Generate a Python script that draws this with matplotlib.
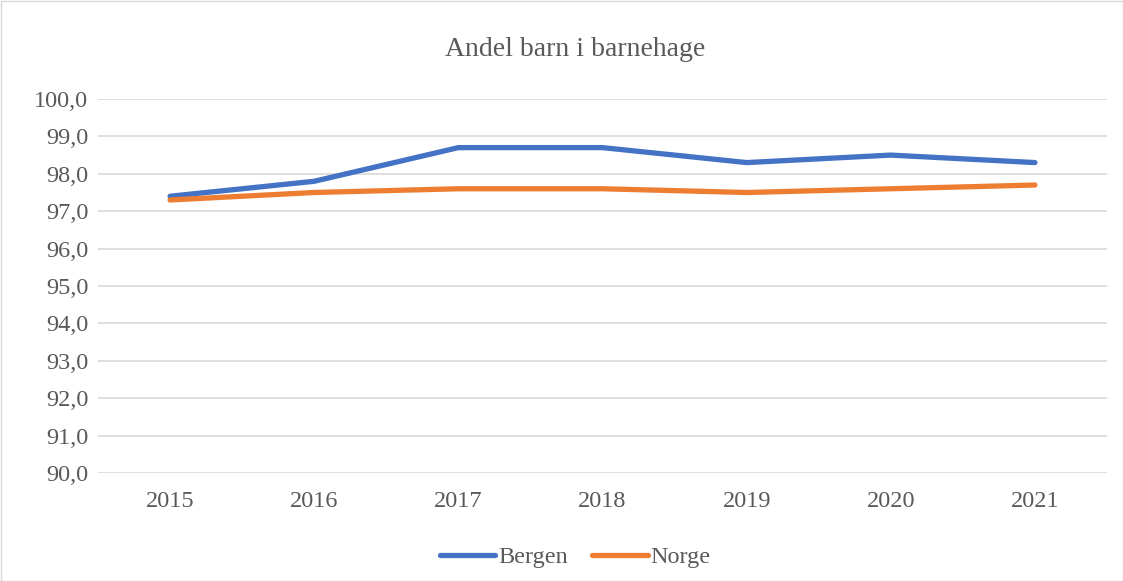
import matplotlib.pyplot as plt
from matplotlib.ticker import FuncFormatter

years = ['2015', '2016', '2017', '2018', '2019', '2020', '2021']
bergen = [97.4, 97.8, 98.7, 98.7, 98.3, 98.5, 98.3]
norge = [97.3, 97.5, 97.6, 97.6, 97.5, 97.6, 97.7]

plt.rcParams['font.family'] = ['Liberation Serif', 'DejaVu Serif']

fig = plt.figure(figsize=(11.23, 5.81), dpi=100)
ax = fig.add_axes([98 / 1123, 1 - 473 / 581, (1107 - 98) / 1123, (473 - 99) / 581])

x = range(len(years))
ax.plot(x, bergen, color='#4472C4', linewidth=3.8, solid_capstyle='round', label='Bergen')
ax.plot(x, norge, color='#ED7D31', linewidth=3.8, solid_capstyle='round', label='Norge')

ax.set_xlim(-0.5, len(years) - 0.5)
ax.set_ylim(90, 100)
ax.set_xticks(list(x))
ax.set_xticklabels(years)
ax.set_yticks(range(90, 101))
ax.yaxis.set_major_formatter(FuncFormatter(lambda v, p: f'{v:.1f}'.replace('.', ',')))
ax.tick_params(axis='both', length=0, labelsize=17.5, labelcolor='#595959')
ax.tick_params(axis='x', pad=13)
ax.tick_params(axis='y', pad=7)
ax.grid(True, axis='y', color='#D9D9D9', linewidth=1.2)
ax.set_axisbelow(True)
for s in ax.spines.values():
    s.set_visible(False)

fig.text(575 / 1123, 1 - 50 / 581, 'Andel barn i barnehage', ha='center', va='center',
         fontsize=20, color='#595959')

fig.legend(loc='center', bbox_to_anchor=(575 / 1123, 1 - 557 / 581), ncol=2, frameon=False,
           fontsize=17.5, labelcolor='#595959', handlelength=2.3, handletextpad=0.1,
           columnspacing=1.0)

fig.patches.append(plt.Rectangle((0.5 / 1123, 0.5 / 581), 1 - 1 / 1123, 1 - 1 / 581,
                                 transform=fig.transFigure, fill=False,
                                 edgecolor='#D9D9D9', linewidth=1))

fig.savefig('out.png', dpi=100)
